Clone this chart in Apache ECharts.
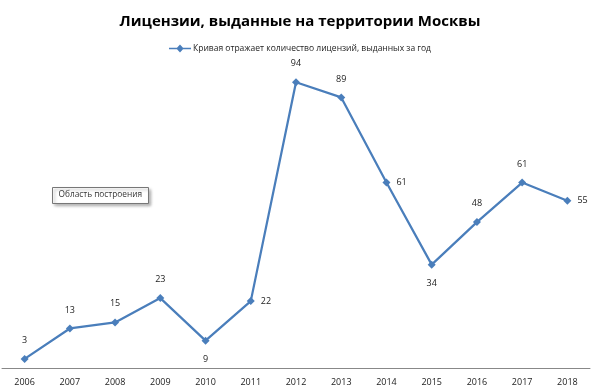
<!DOCTYPE html>
<html><head><meta charset="utf-8">
<script src="https://cdn.jsdelivr.net/npm/echarts@6/dist/echarts.min.js"></script>
<style>html,body{margin:0;padding:0;background:#fff}#c{width:600px;height:390px}</style>
</head><body><div id="c"></div>
<script>
var years = ['2006','2007','2008','2009','2010','2011','2012','2013','2014','2015','2016','2017','2018'];
var licenses = [3,13,15,23,9,22,94,89,61,34,48,61,55];
var labelPos = ['top','top','top','top','bottom','right','top','top','right','bottom','top','top','right'];
var seriesName = 'Кривая отражает количество лицензий, выданных за год';

var chart = echarts.init(document.getElementById('c'));
var font = 'Open Sans, Liberation Sans, sans-serif';
chart.setOption({
  animation: false,
  title: {text: 'Лицензии, выданные на территории Москвы', left: 'center', top: 9,
    textStyle: {fontFamily: font, fontSize: 15, fontWeight: 'bold', color: '#000'}},
  legend: {top: 39, left: 'center', itemWidth: 22, itemHeight: 8, itemGap: 2,
    textStyle: {fontFamily: font, fontSize: 8.5, color: '#222', padding: [0,0,0,-3]},
    data: [{name: seriesName, icon: 'path://M0,3.2 L8,3.2 L11,0 L14,3.2 L22,3.2 L22,4.8 L14,4.8 L11,8 L8,4.8 L0,4.8 Z'}]},
  grid: {left: 2, right: 10, top: 64, bottom: 22, containLabel: false},
  xAxis: {type: 'category', data: years, boundaryGap: true,
    axisLine: {lineStyle: {color: '#888', width: 1}}, axisTick: {show: false},
    axisLabel: {fontFamily: font, fontSize: 9, color: '#222', margin: 10}},
  yAxis: {type: 'value', min: 0, max: 100, show: false, splitLine: {show: false}},
  series: [{
    name: seriesName, type: 'line', data: licenses.map(function(v,i){
      return {value: v, label: {position: labelPos[i], distance: labelPos[i] === 'right' ? 6 : 10}};
    }),
    symbol: 'diamond', symbolSize: 8,
    lineStyle: {color: '#4a7ebb', width: 2.25},
    itemStyle: {color: '#4a7ebb'},
    label: {show: true, fontFamily: font, fontSize: 9, color: '#222'}
  }],
  graphic: [{type: 'group', left: 52, top: 187, children: [
    {type: 'rect', shape: {x: 0, y: 0, width: 96, height: 16},
     style: {fill: '#fff', stroke: '#777', lineWidth: 1, shadowBlur: 3, shadowOffsetX: 2, shadowOffsetY: 2, shadowColor: 'rgba(0,0,0,0.3)'}},
    {type: 'text', x: 6, y: 3.5, style: {text: 'Область построения', fontFamily: font, fontSize: 8.3, fill: '#333'}}
  ]}]
});
</script></body></html>
